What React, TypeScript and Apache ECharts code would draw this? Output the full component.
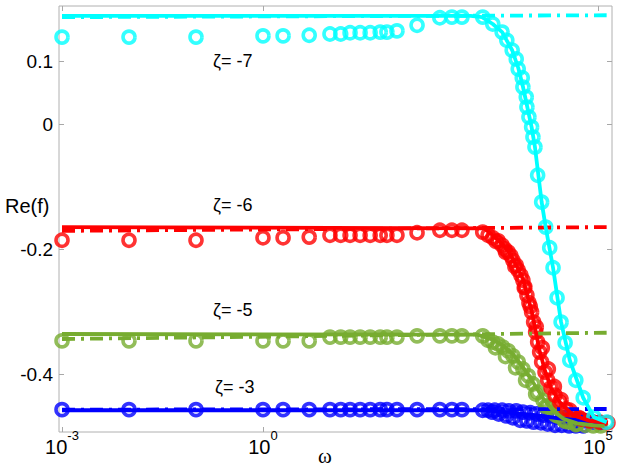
import React, { useEffect, useRef } from "react";
import * as echarts from "echarts";

// x values are log10(omega); y values are Re(f)
const LOW_LOG_W = [-3, -2, -1, 0, 0.3, 0.69, 1, 1.16, 1.3, 1.45, 1.6, 1.75, 1.85, 2, 2.3, 2.64, 2.82, 2.97, 3.28];
const DASH_LOG_W = [-3, 5.13];
const X_TICKS = [-3, 0, 5];
const Y_TICKS = [-0.4, -0.2, 0, 0.1];

// zeta = -7 (cyan)
const cyanLowRe = [0.139, 0.139, 0.139, 0.141, 0.141, 0.142, 0.144, 0.144, 0.146, 0.146, 0.146, 0.147, 0.147, 0.149, 0.158, 0.170, 0.171, 0.171, 0.171];
const cyanDropLogW = [3.43, 3.57, 3.64, 3.72, 3.78, 3.81, 3.87, 3.88, 3.93, 3.94, 3.97, 4.01, 4.03, 4.06, 4.10, 4.16, 4.22, 4.28, 4.33, 4.39, 4.45, 4.51, 4.58, 4.67, 4.78, 4.94, 5.13];
const cyanDropRe = [0.160, 0.147, 0.134, 0.118, 0.104, 0.088, 0.074, 0.059, 0.043, 0.027, 0.011, -0.005, -0.021, -0.037, -0.082, -0.125, -0.165, -0.198, -0.230, -0.278, -0.317, -0.350, -0.378, -0.410, -0.438, -0.469, -0.477];
const cyanLineLogW = [-3, 3.1, 3.27, 3.43, 3.57, 3.72, 3.81, 3.88, 3.94, 4.01, 4.06, 4.16, 4.22, 4.33, 4.45, 4.58, 4.78, 4.94, 5.13];
const cyanLineRe = [0.173, 0.173, 0.171, 0.160, 0.147, 0.118, 0.090, 0.060, 0.030, -0.005, -0.037, -0.125, -0.165, -0.230, -0.317, -0.378, -0.438, -0.469, -0.477];
const cyanDashRe = [0.171, 0.174];

// zeta = -6 (red)
const redLowRe = [-0.186, -0.186, -0.186, -0.182, -0.182, -0.181, -0.178, -0.178, -0.178, -0.178, -0.178, -0.178, -0.178, -0.178, -0.174, -0.170, -0.170, -0.170, -0.173];
const redDropLogW = [3.36, 3.43, 3.51, 3.57, 3.61, 3.66, 3.70, 3.73, 3.78, 3.81, 3.85, 3.88, 3.91, 3.94, 3.97, 4.01, 4.04, 4.07, 4.10, 4.13, 4.16, 4.21, 4.25, 4.30, 4.36, 4.43, 4.52, 4.63, 4.75, 4.88, 5.03, 5.15,
  3.48, 3.62, 3.76, 3.90, 3.99, 4.08, 4.17, 4.26, 4.35, 4.45, 4.58, 4.72];
const redDropRe = [-0.178, -0.182, -0.187, -0.194, -0.200, -0.205, -0.211, -0.218, -0.226, -0.234, -0.242, -0.250, -0.261, -0.274, -0.286, -0.301, -0.317, -0.333, -0.349, -0.365, -0.381, -0.397, -0.410, -0.422, -0.434, -0.445, -0.456, -0.466, -0.472, -0.475, -0.477, -0.478,
  -0.188, -0.205, -0.228, -0.262, -0.292, -0.325, -0.358, -0.392, -0.420, -0.441, -0.458, -0.470];
const redLineLogW = [-3, 3.3, 3.43, 3.57, 3.66, 3.73, 3.81, 3.88, 3.94, 4.01, 4.07, 4.13, 4.21, 4.30, 4.43, 4.63, 4.88, 5.15];
const redLineRe = [-0.165, -0.167, -0.178, -0.192, -0.203, -0.216, -0.232, -0.248, -0.272, -0.299, -0.331, -0.363, -0.395, -0.422, -0.445, -0.466, -0.475, -0.478];
const redDashRe = [-0.171, -0.165];

// zeta = -5 (green)
const greenLowRe = [-0.347, -0.347, -0.347, -0.347, -0.347, -0.347, -0.341, -0.341, -0.341, -0.341, -0.341, -0.341, -0.341, -0.341, -0.339, -0.339, -0.339, -0.339, -0.339];
const greenDropLogW = [3.36, 3.43, 3.51, 3.58, 3.66, 3.73, 3.81, 3.88, 3.96, 4.03, 4.10, 4.18, 4.25, 4.33, 4.40, 4.49, 4.58, 4.69, 4.81, 4.93, 5.04,
  3.47, 3.62, 3.77, 3.92, 4.07, 4.22, 4.37, 4.52, 4.67];
const greenDropRe = [-0.346, -0.349, -0.352, -0.357, -0.363, -0.371, -0.381, -0.392, -0.403, -0.416, -0.429, -0.442, -0.451, -0.461, -0.467, -0.474, -0.477, -0.480, -0.482, -0.483, -0.483,
  -0.358, -0.372, -0.390, -0.410, -0.432, -0.452, -0.466, -0.476, -0.481];
const greenLineLogW = [-3, 3.2, 3.43, 3.58, 3.73, 3.88, 4.03, 4.18, 4.33, 4.49, 4.69, 4.93, 5.1];
const greenLineRe = [-0.336, -0.337, -0.345, -0.354, -0.368, -0.389, -0.413, -0.439, -0.459, -0.472, -0.479, -0.482, -0.483];
const greenDashRe = [-0.344, -0.334];

// zeta = -3 (blue)
const blueLowRe = [-0.457, -0.457, -0.457, -0.457, -0.457, -0.457, -0.457, -0.457, -0.457, -0.457, -0.457, -0.457, -0.457, -0.457, -0.457, -0.457, -0.457, -0.457, -0.458];
const blueDropLogW = [3.36, 3.46, 3.57, 3.67, 3.78, 3.88, 3.99, 4.09, 4.19, 4.30, 4.40, 4.51, 4.61, 4.72, 4.82, 4.93, 5.03,
  3.42, 3.52, 3.63, 3.73, 3.84, 3.94, 4.04, 4.15, 4.25, 4.36, 4.46, 4.57, 4.67, 4.78];
const blueDropRe = [-0.458, -0.458, -0.458, -0.459, -0.459, -0.461, -0.462, -0.464, -0.466, -0.467, -0.469, -0.470, -0.472, -0.474, -0.475, -0.477, -0.478,
  -0.461, -0.464, -0.467, -0.470, -0.474, -0.475, -0.477, -0.478, -0.480, -0.482, -0.482, -0.483, -0.483, -0.483];
const blueLineLogW = [-3, 3.3, 4.0, 4.5, 5.1];
const blueLineRe = [-0.458, -0.458, -0.465, -0.472, -0.478];
const blueDashRe = [-0.457, -0.456];

const CYAN = "#00FFFF";
const RED = "#FF0000";
const GREEN = "#77AC30";
const BLUE = "#0000FF";
const SANS = "'Liberation Sans', Arial, sans-serif";

const pts = (xs: number[], ys: number[]) => xs.map((x, i) => [x, ys[i]]);

function group(color: string, lowRe: number[], dropX: number[], dropY: number[], lineX: number[], lineY: number[], dashY: number[]) {
  return [
    {
      type: "line", data: pts(DASH_LOG_W, dashY), showSymbol: false, silent: true,
      lineStyle: { color, width: 3.8, type: [13, 6, 3, 6] },
    },
    {
      type: "line", data: pts(lineX, lineY), showSymbol: false, silent: true,
      lineStyle: { color, width: 3.8 },
    },
    {
      type: "scatter", data: pts([...LOW_LOG_W, ...dropX], [...lowRe, ...dropY]), silent: true,
      symbol: "circle", symbolSize: 12,
      itemStyle: { color: "rgba(0,0,0,0)", borderColor: color, borderWidth: 3.6 },
    },
  ];
}

export default function App() {
  const ref = useRef<HTMLDivElement>(null);
  useEffect(() => {
    document.body.style.margin = "0";
    const chart = echarts.init(ref.current!, null, { renderer: "svg" });
    const tickStyle = { inside: true, length: 5, lineStyle: { color: "#a8a8a8", width: 1 } };
    const xBase = {
      type: "value", min: -3.045, max: 5.21, splitLine: { show: false },
      axisLine: { show: false, onZero: false },
    };
    const yBase = {
      type: "value", min: -0.4928, max: 0.1888, splitLine: { show: false },
      axisLine: { show: false, onZero: false },
    };
    const option: any = {
      animation: false,
      grid: { left: 59, right: 12, top: 6, bottom: 37, show: true, borderColor: "#b0b0b0", borderWidth: 1, backgroundColor: "transparent" },
      xAxis: [
        {
          ...xBase, position: "bottom",
          axisTick: { ...tickStyle, customValues: X_TICKS },
          axisLabel: {
            customValues: X_TICKS, margin: 5,
            formatter: (v: number) => `{b|10}{s|${Math.round(v)}}`,
            rich: {
              b: { fontSize: 20, fontFamily: SANS, color: "#000", lineHeight: 20, verticalAlign: "bottom" },
              s: { fontSize: 13, fontFamily: SANS, color: "#000", lineHeight: 13, verticalAlign: "bottom", padding: [0, 0, 15, 0] },
            },
          },
        },
        {
          ...xBase, position: "top",
          axisTick: { ...tickStyle, customValues: X_TICKS },
          axisLabel: { show: false },
        },
      ],
      yAxis: [
        {
          ...yBase, position: "left",
          axisTick: { ...tickStyle, customValues: Y_TICKS },
          axisLabel: {
            customValues: Y_TICKS, margin: 6, fontSize: 19, fontFamily: SANS, color: "#000",
            formatter: (v: number) => (Math.abs(v) < 1e-9 ? "0" : String(Math.round(v * 10) / 10)),
          },
        },
        {
          ...yBase, position: "right",
          axisTick: { ...tickStyle, customValues: Y_TICKS },
          axisLabel: { show: false },
        },
      ],
      series: [
        ...group(BLUE, blueLowRe, blueDropLogW, blueDropRe, blueLineLogW, blueLineRe, blueDashRe),
        ...group(GREEN, greenLowRe, greenDropLogW, greenDropRe, greenLineLogW, greenLineRe, greenDashRe),
        ...group(RED, redLowRe, redDropLogW, redDropRe, redLineLogW, redLineRe, redDashRe),
        ...group(CYAN, cyanLowRe, cyanDropLogW, cyanDropRe, cyanLineLogW, cyanLineRe, cyanDashRe),
      ],
      graphic: [
        { type: "text", left: 5, top: 196, style: { text: "Re(f)", fontSize: 20, fontFamily: SANS, fill: "#000" } },
        { type: "text", left: 318, top: 445, style: { text: "ω", fontSize: 21, fontFamily: "'Liberation Serif', 'Times New Roman', serif", fill: "#000" } },
        { type: "text", left: 213, top: 52, style: { text: "ζ= -7", fontSize: 18, fontFamily: SANS, fill: "#000" } },
        { type: "text", left: 213, top: 196, style: { text: "ζ= -6", fontSize: 18, fontFamily: SANS, fill: "#000" } },
        { type: "text", left: 213, top: 301, style: { text: "ζ= -5", fontSize: 18, fontFamily: SANS, fill: "#000" } },
        { type: "text", left: 215, top: 378, style: { text: "ζ= -3", fontSize: 18, fontFamily: SANS, fill: "#000" } },
      ],
    };
    chart.setOption(option);
    return () => chart.dispose();
  }, []);
  return <div ref={ref} style={{ width: 624, height: 469 }} />;
}
